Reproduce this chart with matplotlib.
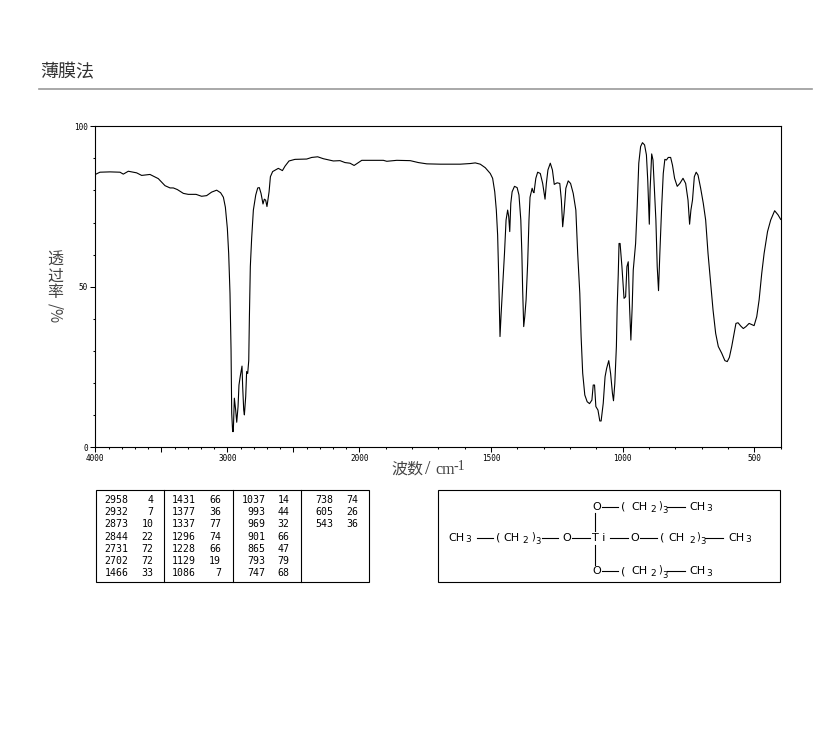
from matplotlib import pyplot as plt
from matplotlib.lines import Line2D
from matplotlib.patches import Rectangle
from matplotlib.ticker import FixedLocator, FixedFormatter
import numpy as np

CJK = ['Noto Sans CJK SC', 'DejaVu Sans']
MONO = 'DejaVu Sans Mono'

########################################################################################################################
# spectrum
wavenumber = [
    4000, 3965, 3889, 3813, 3788, 3750, 3687, 3649, 3586, 3523, 3472, 3434, 3409, 3379, 3333, 3296, 3237, 3195, 3157,
    3119, 3081, 3051, 3030, 3015, 3000, 2990, 2980, 2972, 2967, 2960, 2955, 2947, 2937, 2929, 2919, 2912, 2902, 2889,
    2884, 2876, 2871, 2861, 2854, 2846, 2838, 2833, 2826, 2816, 2803, 2785, 2770, 2758, 2745, 2730, 2720, 2710, 2700,
    2684, 2674, 2657, 2614, 2583, 2563, 2533, 2488, 2399, 2361, 2316, 2273, 2197, 2147, 2109, 2071, 2040, 2015, 1991,
    1909, 1896, 1858, 1807, 1776, 1744, 1693, 1617, 1579, 1560, 1541, 1522, 1503, 1494, 1486, 1480, 1475, 1471, 1468,
    1466, 1462, 1456, 1449, 1443, 1437, 1433, 1429, 1425, 1420, 1411, 1401, 1394, 1387, 1383, 1380, 1376, 1372, 1367,
    1361, 1356, 1352, 1344, 1340, 1337, 1330, 1323, 1313, 1304, 1295, 1290, 1284, 1275, 1267, 1260, 1249, 1239, 1233,
    1228, 1223, 1216, 1207, 1198, 1188, 1178, 1171, 1163, 1158, 1152, 1144, 1135, 1126, 1117, 1112, 1107, 1102, 1094,
    1087, 1082, 1074, 1067, 1061, 1053, 1046, 1039, 1035, 1030, 1024, 1021, 1017, 1014, 1010, 1003, 998, 995, 989,
    984, 979, 974, 969, 964, 960, 951, 945, 939, 932, 925, 917, 910, 905, 899, 896, 890, 885, 880, 874, 869, 864, 859,
    852, 846, 840, 834, 827, 818, 811, 803, 793, 783, 771, 761, 752, 746, 741, 735, 728, 721, 714, 704, 694, 685, 676,
    666, 657, 647, 637, 624, 612, 603, 595, 586, 577, 570, 562, 552, 542, 532, 520, 501, 491, 482, 472, 463, 450, 438,
    423, 410, 400]
transmittance = [
    85.0, 85.7, 85.8, 85.7, 85.1, 86.0, 85.5, 84.7, 85.0, 83.7, 81.5, 80.8, 80.8, 80.3, 79.1, 78.8, 78.8, 78.2, 78.4,
    79.5, 80.1, 79.3, 77.9, 74.8, 68.2, 60.4, 48.0, 30.3, 10.6, 4.9, 4.9, 15.3, 11.6, 7.8, 12.7, 19.4, 22.2, 25.3,
    18.9, 11.6, 10.1, 15.8, 23.6, 23.0, 27.0, 40.7, 56.3, 65.1, 73.9, 78.6, 80.8, 80.9, 79.1, 75.8, 77.3, 77.0, 75.0,
    79.6, 84.3, 85.9, 86.9, 86.2, 87.6, 89.2, 89.7, 89.8, 90.3, 90.5, 89.9, 89.2, 89.3, 88.7, 88.5, 87.8, 88.5, 89.4,
    89.4, 89.1, 89.4, 89.3, 88.7, 88.3, 88.2, 88.2, 88.4, 88.6, 88.2, 87.1, 85.3, 83.8, 79.6, 73.9, 66.1, 53.2, 41.2,
    34.5, 41.2, 50.0, 60.4, 70.8, 73.9, 71.9, 67.2, 76.0, 79.6, 81.3, 80.9, 78.6, 70.8, 60.4, 49.0, 37.6, 40.7, 45.9,
    57.3, 70.8, 77.9, 80.7, 79.6, 79.3, 83.8, 85.7, 85.3, 82.2, 77.3, 82.2, 86.4, 88.5, 86.4, 81.9, 82.4, 82.2, 77.0,
    68.7, 72.9, 80.7, 83.0, 82.2, 79.1, 73.9, 60.4, 48.0, 34.5, 23.1, 16.3, 14.2, 13.6, 14.7, 19.4, 19.4, 12.7, 11.6,
    8.2, 8.2, 13.7, 22.0, 24.6, 27.0, 23.0, 16.8, 14.5, 19.9, 31.4, 43.8, 53.7, 63.5, 63.5, 56.3, 50.0, 46.4, 46.9,
    56.3, 57.8, 43.8, 33.4, 43.8, 55.2, 63.5, 75.0, 88.5, 93.7, 94.9, 94.2, 91.1, 83.3, 69.5, 80.2, 91.4, 89.5, 81.2,
    70.8, 56.3, 48.8, 60.4, 75.0, 85.3, 89.7, 89.5, 90.3, 90.3, 87.9, 83.8, 81.3, 82.2, 83.8, 82.2, 77.0, 69.5, 73.9,
    77.0, 84.3, 85.7, 84.8, 80.7, 76.0, 70.8, 60.4, 51.1, 42.8, 35.5, 31.4, 29.3, 27.0, 26.7, 28.0, 31.4, 35.5, 38.6,
    38.8, 37.8, 37.0, 37.6, 38.6, 37.9, 40.7, 45.9, 54.2, 60.4, 67.2, 70.8, 73.7, 72.4, 71.0]

# peak table, one list per column of the box
peak_wn_1 = [2958, 2932, 2873, 2844, 2731, 2702, 1466]
peak_t_1 = [4, 7, 10, 22, 72, 72, 33]
peak_wn_2 = [1431, 1377, 1337, 1296, 1228, 1129, 1086]
peak_t_2 = [66, 36, 77, 74, 66, 19, 7]
peak_wn_3 = [1037, 993, 969, 901, 865, 793, 747]
peak_t_3 = [14, 44, 32, 66, 47, 79, 68]
peak_wn_4 = [738, 605, 543]
peak_t_4 = [74, 26, 36]

x_major = [4000, 3500, 3000, 2500, 2000, 1500, 1000, 500]
x_major_labels = ["4000", "", "3000", "", "2000", "1500", "1000", "500"]
x_minor = list(range(400, 4000, 100))
y_major = [0, 50, 100]
y_major_labels = ["0", "50", "100"]
y_minor = list(range(0, 100, 10))


########################################################################################################################
# the wavenumber axis changes scale at 2000 (twice as wide below it)
def x_forward(v):
    return np.interp(v, [400, 2000, 4000], [0, 421.3, 685.4])


def x_inverse(v):
    return np.interp(v, [0, 421.3, 685.4], [400, 2000, 4000])


def chem_chain(ov, x_open, x_ch2, x_sub, x_close, y):
    # "( CH2 )3" fragment
    ov.text(x_open, y, "(", fontsize=8, ha="center", va="center")
    ov.text(x_ch2, y, "CH", fontsize=8, ha="center", va="center")
    ov.text(x_sub, y + 2.5, "2", fontsize=6.5, ha="center", va="center")
    ov.text(x_close - 1.5, y - 1, ")", fontsize=7, ha="center", va="center")
    ov.text(x_close + 3, y + 4, "3", fontsize=6, ha="center", va="center")


def chem_ch3(ov, x, y):
    ov.text(x, y, "CH", fontsize=8, ha="left", va="center")
    ov.text(x + 17.5, y + 2, "3", fontsize=6.5, ha="left", va="center")


def plot_spectrum():
    fig = plt.figure(figsize=(8.22, 7.37), dpi=100, facecolor="white")

    ax = fig.add_axes([95.3 / 822, (737 - 447.3) / 737, 685.4 / 822, 321.0 / 737])
    ax.set_xscale("function", functions=(x_forward, x_inverse))
    ax.plot(wavenumber, transmittance, color="black", lw=0.8)
    ax.set_xlim(4000, 400)
    ax.set_ylim(0, 100)

    ax.xaxis.set_major_locator(FixedLocator(x_major))
    ax.xaxis.set_major_formatter(FixedFormatter(x_major_labels))
    ax.xaxis.set_minor_locator(FixedLocator(x_minor))
    ax.yaxis.set_major_locator(FixedLocator(y_major))
    ax.yaxis.set_major_formatter(FixedFormatter(y_major_labels))
    ax.yaxis.set_minor_locator(FixedLocator(y_minor))

    ax.tick_params(axis="both", which="major", length=3.6, width=0.75, labelsize=5.5, pad=1.5)
    ax.tick_params(axis="both", which="minor", length=1.6, width=0.75)
    for label in ax.get_xticklabels() + ax.get_yticklabels():
        label.set_family(MONO)
    for spine in ax.spines.values():
        spine.set_linewidth(0.8)

    # everything else is placed in picture pixels
    ov = fig.add_axes([0, 0, 1, 1], facecolor="none")
    ov.set_xlim(0, 822)
    ov.set_ylim(737, 0)
    ov.axis("off")

    ov.text(40, 72, "薄膜法", family=CJK, fontsize=13, color="#333333", ha="left", va="center")
    ov.add_line(Line2D([39, 812], [88.5, 88.5], color="#999999", lw=1.2))

    # y label, stacked
    for ch, yy in zip("透过率", [260, 276, 292]):
        ov.text(55, yy, ch, family=CJK, fontsize=11.5, color="#444444", ha="center", va="center")
    ov.text(55, 313, "/%", family=CJK, fontsize=11, color="#444444", rotation=270, ha="center", va="center")

    # x label
    ov.text(391, 469, "波数", family=CJK, fontsize=11.5, color="#444444", ha="left", va="center")
    ov.text(428, 469, "/", family="Liberation Serif", fontsize=14, color="#444444", ha="center", va="center")
    ov.text(435, 470, "cm", family="Liberation Serif", fontsize=11.5, color="#444444", ha="left", va="center")
    ov.text(453, 466, "-1", family="Liberation Serif", fontsize=10, color="#444444", ha="left", va="center")

    # peak table
    ov.add_patch(Rectangle((95.5, 490.3), 273.8, 91.7, fill=False, ec="black", lw=0.8))
    for xd in [164.3, 232.7, 301.3]:
        ov.add_line(Line2D([xd, xd], [490.3, 582], color="black", lw=0.8))
    columns = [(peak_wn_1, peak_t_1, 128.5, 153.5), (peak_wn_2, peak_t_2, 196, 221),
               (peak_wn_3, peak_t_3, 265.7, 289.5), (peak_wn_4, peak_t_4, 333.5, 358.5)]
    for wn_col, t_col, x_wn, x_t in columns:
        for i, (wn, t) in enumerate(zip(wn_col, t_col)):
            yy = 499.7 + i * 12.28
            ov.text(x_wn, yy, str(wn), family=MONO, fontsize=7.1, ha="right", va="center")
            ov.text(x_t, yy, str(t), family=MONO, fontsize=7.1, ha="right", va="center")

    # structure box
    ov.add_patch(Rectangle((438.3, 490.3), 342, 91.7, fill=False, ec="black", lw=0.8))
    bonds = [([476.7, 493.3], [537.7, 537.7]), ([541.7, 558.3], [537.7, 537.7]), ([571.7, 590], [537.7, 537.7]),
             ([610, 628.3], [537.7, 537.7]), ([640, 656.7], [537.7, 537.7]), ([705, 723], [537.7, 537.7]),
             ([601.7, 618.3], [506.7, 506.7]), ([666.7, 685], [506.7, 506.7]),
             ([601.7, 618.3], [571, 571]), ([666.7, 685], [571, 571]),
             ([594.7, 594.7], [513, 531]), ([594.7, 594.7], [545, 565])]
    for bx, by in bonds:
        ov.add_line(Line2D(bx, by, color="black", lw=0.8))

    chem_ch3(ov, 448, 537.7)
    chem_chain(ov, 497.7, 511.5, 525, 535, 537.7)
    ov.text(566.7, 537.7, "O", fontsize=8, ha="center", va="center")
    ov.text(598.5, 537.7, "T i", fontsize=8, ha="center", va="center")
    ov.text(635, 537.7, "O", fontsize=8, ha="center", va="center")
    chem_chain(ov, 661.7, 676.5, 691.7, 700, 537.7)
    chem_ch3(ov, 728, 537.7)

    for yy in [506.7, 571]:
        ov.text(596.7, yy, "O", fontsize=8, ha="center", va="center")
        chem_chain(ov, 623.3, 639, 653, 661.7, yy)
        chem_ch3(ov, 689, yy)

    plt.savefig("out.png", dpi=100)
    plt.close()


########################################################################################################################
if __name__ == "__main__":
    plot_spectrum()
